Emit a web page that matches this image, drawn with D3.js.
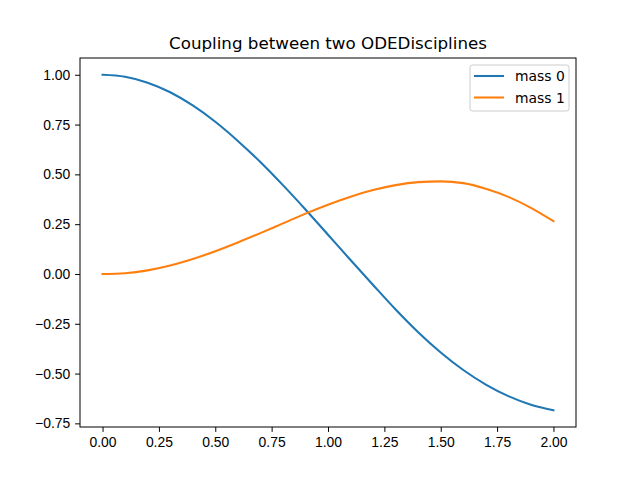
<!DOCTYPE html>
<html lang="en">
<head>
  <meta charset="utf-8">
  <title>Coupling between two ODEDisciplines</title>
  <script src="https://d3js.org/d3.v7.min.js"></script>
  <style>
    body { margin: 0; background: #fff; }
    svg { display: block; font-family: 'DejaVu Sans', sans-serif; }
    .axis text { font-size: 13.9px; fill: #000; }
    .axis path, .axis line { stroke: #000; stroke-width: 1px; }
  </style>
</head>
<body>
<div id="chart"></div>
<script>

  // time samples and the two series
  var times = [0.0, 0.1, 0.2, 0.3, 0.4, 0.5, 0.6, 0.7, 0.8, 0.9, 1.0,
               1.1, 1.2, 1.3, 1.4, 1.5, 1.6, 1.7, 1.8, 1.9, 2.0];
  var mass0 = [1.000, 0.990, 0.960, 0.912, 0.846, 0.764, 0.668, 0.562, 0.446, 0.324, 0.197,
               0.070, -0.055, -0.178, -0.292, -0.394, -0.482, -0.555, -0.613, -0.656, -0.684];
  var mass1 = [0.000, 0.004, 0.018, 0.042, 0.075, 0.114, 0.158, 0.205, 0.254, 0.303, 0.348,
               0.388, 0.421, 0.446, 0.461, 0.465, 0.456, 0.428, 0.387, 0.332, 0.265];
  var seriesNames = ['mass 0', 'mass 1'];
  var xTicks = [0, 0.25, 0.5, 0.75, 1.0, 1.25, 1.5, 1.75, 2.0];
  var yTicks = [-0.75, -0.5, -0.25, 0, 0.25, 0.5, 0.75, 1.0];

  var width = 640, height = 480;
  var margin = { top: 58, right: 64, bottom: 53, left: 80 };
  var w = width - margin.left - margin.right;
  var h = height - margin.top - margin.bottom;
  var colors = ['#1f77b4', '#ff7f0e'];

  var series = [mass0, mass1];
  var allValues = mass0.concat(mass1);
  var yMin = d3.min(allValues), yMax = d3.max(allValues);
  var yPad = (yMax - yMin) * 0.05;
  var xPad = (d3.max(times) - d3.min(times)) * 0.05;

  var xScale = d3.scaleLinear()
                 .domain([d3.min(times) - xPad, d3.max(times) + xPad])
                 .range([0, w]);
  var yScale = d3.scaleLinear()
                 .domain([yMin - yPad, yMax + yPad])
                 .range([h, 0]);

  var svg = d3.select('#chart')
              .append('svg')
              .attr('width', width)
              .attr('height', height);

  svg.append('text')
     .attr('x', margin.left + w / 2)
     .attr('y', 49)
     .attr('text-anchor', 'middle')
     .style('font-size', '16.7px')
     .text('Coupling between two ODEDisciplines');

  var g = svg.append('g')
             .attr('transform', 'translate(' + margin.left + ',' + margin.top + ')');

  var fmt = function(d) { return d3.format('.2f')(d).replace('-', '\u2212'); };

  g.append('g')
   .attr('class', 'axis')
   .attr('transform', 'translate(0,' + h + ')')
   .call(d3.axisBottom(xScale).tickValues(xTicks).tickFormat(fmt).tickSize(4.9).tickPadding(4.9).tickSizeOuter(0))
   .call(function(s) { s.select('.domain').remove(); });

  g.append('g')
   .attr('class', 'axis')
   .call(d3.axisLeft(yScale).tickValues(yTicks).tickFormat(fmt).tickSize(4.9).tickPadding(4.9).tickSizeOuter(0))
   .call(function(s) { s.select('.domain').remove(); });

  var line = d3.line()
               .x(function(d, i) { return xScale(times[i]); })
               .y(function(d) { return yScale(d); })
               .curve(d3.curveMonotoneX);

  series.forEach(function(values, k) {
    g.append('path')
     .datum(values)
     .attr('d', line)
     .attr('fill', 'none')
     .attr('stroke', colors[k])
     .attr('stroke-width', 2.08)
     .attr('stroke-linecap', 'square');
  });

  // frame
  g.append('rect')
   .attr('x', 0).attr('y', 0)
   .attr('width', w).attr('height', h)
   .attr('fill', 'none')
   .attr('stroke', '#000')
   .attr('stroke-width', 1);

  // legend
  var legend = g.append('g')
                .attr('transform', 'translate(' + (w - 106) + ',7)');

  legend.append('rect')
        .attr('x', 0).attr('y', 0)
        .attr('width', 99).attr('height', 46)
        .attr('rx', 2.5)
        .attr('fill', '#fff')
        .attr('fill-opacity', 0.8)
        .attr('stroke', '#ccc')
        .attr('stroke-width', 1);

  seriesNames.forEach(function(name, k) {
    var yy = 11 + k * 21.5;
    legend.append('line')
          .attr('x1', 4).attr('x2', 34)
          .attr('y1', yy).attr('y2', yy)
          .attr('stroke', colors[k])
          .attr('stroke-width', 2.08);
    legend.append('text')
          .attr('x', 45)
          .attr('y', yy + 5)
          .style('font-size', '13.9px')
          .text(name);
  });

</script>
</body>
</html>
